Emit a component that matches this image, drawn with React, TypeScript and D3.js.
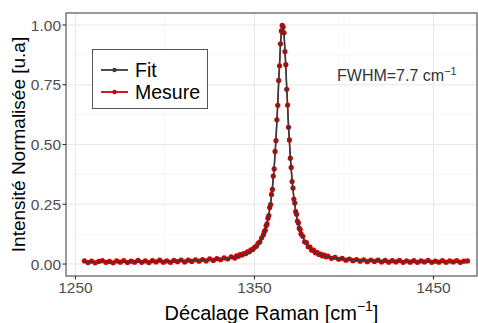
import React from "react";
import * as d3 from "d3";

const ramanShift = [
  1255,1257,1259,1261,1263,1265,1267,1269,1271,1273,1275,1277,1279,1281,1283,1285,1287,1289,1291,1293,1295,1297,1299,1301,1303,1305,1307,1309,1311,1313,1315,1317,1319,1321,1323,1325,1327,1329,1331,1333,1335,1337,1339,
  1340,1341,1342,1343,1344,1345,1346,1347,1348,1349,1350,1351,1352,1353,1354,1355,
  1355.5,1356,1356.5,1357,1357.5,1358,1358.5,1359,1359.5,1360,1360.5,1361,1361.5,1362,1362.5,1363,1363.5,1364,1364.5,1365,1365.5,1366,1366.5,1367,1367.5,1368,1368.5,1369,1369.5,1370,1370.5,1371,1371.5,1372,1372.5,1373,1373.5,1374,1374.5,1375,1375.5,1376,
  1377,1378,1379,1380,1381,1382,1383,1384,1385,1386,1387,1388,1389,1390,1391,
  1393,1395,1397,1399,1401,1403,1405,1407,1409,1411,1413,1415,1417,1419,1421,1423,1425,1427,1429,1431,1433,1435,1437,1439,1441,1443,1445,1447,1449,1451,1453,1455,1457,1459,1461,1463,1465,1467,1469,
];

const fitValues = [
  .0092,.0092,.0093,.0093,.0094,.0094,.0095,.0096,.0096,.0097,.0098,.0099,.0100,.0100,.0101,.0103,.0104,.0105,.0106,.0108,.0109,.0111,.0113,.0115,.0117,.0120,.0122,.0126,.0129,.0133,.0137,.0142,.0147,.0153,.0160,.0168,.0177,.0188,.0201,.0216,.0234,.0255,.0282,
  .0298,.0315,.0335,.0357,.0383,.0412,.0445,.0483,.0528,.0581,.0643,.0717,.0806,.0915,.1049,.1217,
  .1317,.1430,.1558,.1704,.1872,.2064,.2285,.2542,.2841,.3188,.3592,.4063,.4610,.5236,.5947,.6729,.7558,.8381,.9121,.9683,.9973,.9940,.9590,.8984,.8220,.7390,.6568,.5798,.5104,.4493,.3963,.3506,.3113,.2777,.2488,.2239,.2023,.1836,.1673,.1531,.1406,.1296,
  .1112,.0965,.0847,.0751,.0670,.0604,.0548,.0501,.0460,.0424,.0394,.0367,.0344,.0323,.0304,
  .0273,.0248,.0228,.0211,.0197,.0185,.0174,.0165,.0158,.0151,.0145,.0140,.0136,.0131,.0128,.0125,.0122,.0119,.0117,.0114,.0112,.0111,.0109,.0107,.0106,.0105,.0103,.0102,.0101,.0100,.0099,.0098,.0098,.0097,.0096,.0095,.0095,.0094,.0094,
];

const mesureValues = [
  .013,.006,.012,.005,.011,.014,.007,.011,.005,.013,.008,.014,.006,.012,.008,.015,.007,.013,.006,.014,.009,.016,.008,.013,.007,.015,.010,.017,.009,.016,.011,.018,.012,.019,.013,.022,.015,.023,.018,.026,.021,.030,.025,
  .034,.033,.039,.038,.044,.043,.051,.051,.059,.061,.070,.074,.087,.093,.110,.123,
  .136,.141,.160,.168,.192,.203,.236,.249,.291,.312,.368,.398,.471,.516,.603,.664,.768,.829,.921,.975,.998,.991,.967,.889,.834,.731,.665,.572,.519,.443,.404,.345,.318,.272,.255,.219,.208,.180,.172,.150,.145,.126,
  .116,.093,.090,.072,.071,.058,.058,.047,.049,.040,.042,.034,.037,.030,.033,
  .024,.028,.020,.024,.016,.021,.014,.019,.012,.018,.010,.017,.011,.016,.009,.015,.008,.014,.009,.015,.007,.013,.008,.014,.007,.013,.009,.015,.007,.012,.008,.014,.007,.013,.009,.014,.007,.012,.013,
];

const xTicks = [1250, 1350, 1450];
const xMinor = [1300, 1400];
const yTicks = [0, 0.25, 0.5, 0.75, 1];
const yMinor = [0.125, 0.375, 0.625, 0.875];
const seriesNames = ["Fit", "Mesure"];

export default function App() {
  const W = 478, H = 323;
  const left = 66, right = 477, top = 13, bottom = 276;
  const x = d3.scaleLinear().domain([1244.7, 1474.3]).range([left, right]);
  const y = d3.scaleLinear().domain([-0.05, 1.05]).range([bottom, top]);
  const font = "'Liberation Sans', Arial, Helvetica, sans-serif";

  const mesurePts = ramanShift.map((r, i) => [r, mesureValues[i]] as [number, number]);
  const fitPts = ramanShift.map((r, i) => [r, fitValues[i]] as [number, number]);
  const line = d3.line<[number, number]>().x(d => x(d[0])).y(d => y(d[1]));

  const red = "#cc0000";
  const dark = "#3a3a3a";

  return (
    <svg width={W} height={H} style={{ position: "absolute", left: 0, top: 0 }} fontFamily={font}>
      <rect x={0} y={0} width={W} height={H} fill="white" />
      <clipPath id="panel">
        <rect x={left} y={top} width={right - left} height={bottom - top} />
      </clipPath>
      {/* grid */}
      {yMinor.map(v => (
        <line key={"ym" + v} x1={left} x2={right} y1={y(v)} y2={y(v)} stroke="#f0f0f0" strokeWidth={0.6} />
      ))}
      {xMinor.map(v => (
        <line key={"xm" + v} y1={top} y2={bottom} x1={x(v)} x2={x(v)} stroke="#f0f0f0" strokeWidth={0.6} />
      ))}
      {yTicks.map(v => (
        <line key={"yg" + v} x1={left} x2={right} y1={y(v)} y2={y(v)} stroke="#e8e8e8" strokeWidth={1.1} />
      ))}
      {xTicks.map(v => (
        <line key={"xg" + v} y1={top} y2={bottom} x1={x(v)} x2={x(v)} stroke="#e8e8e8" strokeWidth={1.1} />
      ))}
      {/* data */}
      <g clipPath="url(#panel)">
        <path d={line(mesurePts) || ""} fill="none" stroke={red} strokeWidth={1.3} strokeLinejoin="round" />
        {mesurePts.map((p, i) => (
          <circle key={"m" + i} cx={x(p[0])} cy={y(p[1])} r={2.6} fill={red} />
        ))}
        <path d={line(fitPts) || ""} fill="none" stroke={dark} strokeWidth={1.6} />
      </g>
      {/* border */}
      <rect x={left} y={top} width={right - left} height={bottom - top} fill="none" stroke="#555555" strokeWidth={1.2} />
      {/* y axis */}
      {yTicks.map(v => (
        <g key={"yt" + v}>
          <line x1={left - 3.5} x2={left} y1={y(v)} y2={y(v)} stroke="#333333" strokeWidth={1.1} />
          <text x={61} y={y(v)} dy="0.36em" textAnchor="end" fontSize={15.5} fill="#4d4d4d">
            {v.toFixed(2)}
          </text>
        </g>
      ))}
      {/* x axis */}
      {xTicks.map(v => (
        <g key={"xt" + v}>
          <line x1={x(v)} x2={x(v)} y1={bottom} y2={bottom + 3.5} stroke="#333333" strokeWidth={1.1} />
          <text x={x(v)} y={292.5} textAnchor="middle" fontSize={15.5} fill="#4d4d4d">
            {v}
          </text>
        </g>
      ))}
      {/* axis titles */}
      <text x={(left + right) / 2} y={320} textAnchor="middle" fontSize={20} fill="#000">
        Décalage Raman [cm<tspan dy={-9} fontSize={14}>−1</tspan><tspan dy={9}>]</tspan>
      </text>
      <text transform={`translate(25, ${(top + bottom) / 2}) rotate(-90)`} textAnchor="middle" fontSize={19} fill="#000">
        Intensité Normalisée [u.a]
      </text>
      {/* annotation */}
      <text x={337} y={81} fontSize={16} fill="#333340">
        FWHM=7.7 cm<tspan dy={-6} fontSize={11}>−1</tspan>
      </text>
      {/* legend */}
      <rect x={92.5} y={49.5} width={115} height={59} fill="white" stroke="#555555" strokeWidth={1} />
      {seriesNames.map((s, i) => {
        const ly = 70 + i * 22;
        const c = i === 0 ? dark : red;
        return (
          <g key={s}>
            <line x1={101} x2={128} y1={ly} y2={ly} stroke={c} strokeWidth={1.8} />
            <circle cx={114.5} cy={ly} r={2.2} fill={c} />
            <text x={135} y={ly} dy="0.36em" fontSize={19.5} fill="#000">{s}</text>
          </g>
        );
      })}
    </svg>
  );
}
